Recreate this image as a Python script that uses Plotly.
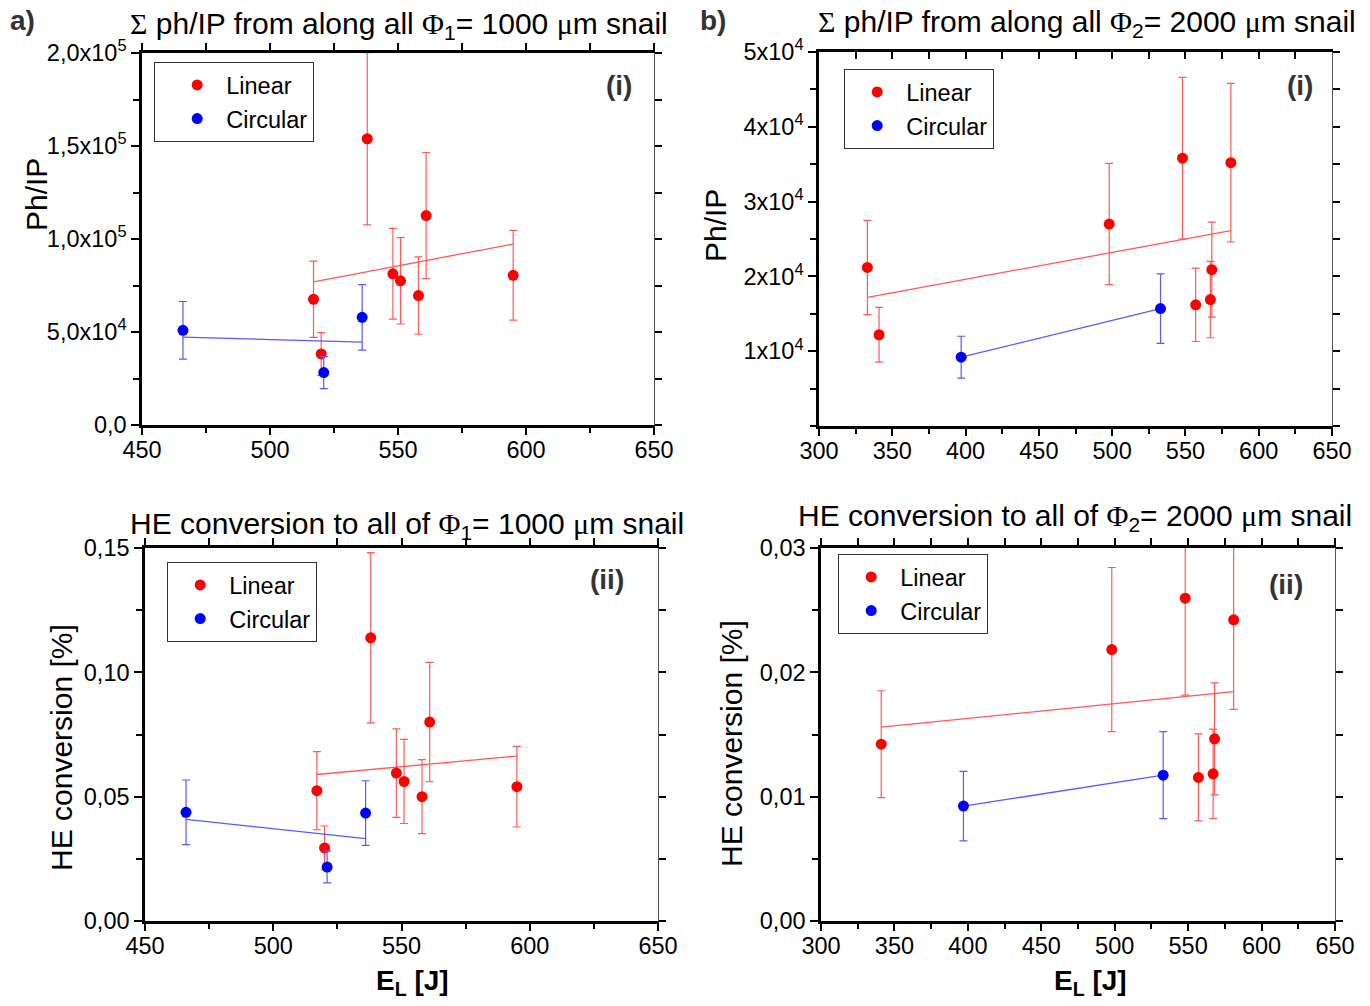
import numpy as np
import plotly.graph_objects as go

# ---------------- data ----------------
A_lin_x = [517, 520, 538, 548, 551, 558, 561, 595]
A_lin_y = [67600, 38200, 153900, 81300, 77500, 69600, 112600, 80500]
A_lin_err = [20500, 11500, 46300, 24400, 23200, 20800, 33900, 24100]
A_cir_x = [466, 521, 536]
A_cir_y = [50900, 28200, 57900]
A_cir_err = [15500, 8600, 17600]

B_lin_x = [333, 341, 498, 548, 557, 567, 568, 581]
B_lin_y = [21200, 12200, 27000, 35800, 16200, 16900, 20900, 35200]
B_lin_err = [6300, 3650, 8100, 10800, 4900, 5100, 6350, 10600]
B_cir_x = [397, 533]
B_cir_y = [9200, 15700]
B_cir_err = [2800, 4650]

C_lin_x = [517, 520, 538, 548, 551, 558, 561, 595]
C_lin_y = [0.0524, 0.0294, 0.1139, 0.0595, 0.0561, 0.0500, 0.0800, 0.0540]
C_lin_err = [0.0157, 0.0088, 0.0342, 0.0178, 0.0169, 0.0149, 0.0240, 0.0162]
C_cir_x = [466, 521, 536]
C_cir_y = [0.0437, 0.0217, 0.0434]
C_cir_err = [0.0130, 0.0064, 0.0130]

D_lin_x = [341, 498, 548, 557, 567, 568, 581]
D_lin_y = [0.01422, 0.02183, 0.02596, 0.01155, 0.01184, 0.01465, 0.02422]
D_lin_err = [0.0043, 0.0066, 0.0078, 0.0035, 0.0036, 0.0045, 0.0072]
D_cir_x = [397, 533]
D_cir_y = [0.00924, 0.01173]
D_cir_err = [0.0028, 0.0035]

XA_ticks = [450, 500, 550, 600, 650]
XB_ticks = [300, 350, 400, 450, 500, 550, 600, 650]
YA_vals = [0, 50000, 100000, 150000, 200000]
YA_text = ["0,0", "5,0x10<sup>4</sup>", "1,0x10<sup>5</sup>", "1,5x10<sup>5</sup>", "2,0x10<sup>5</sup>"]
YB_vals = [10000, 20000, 30000, 40000, 50000]
YB_text = ["1x10<sup>4</sup>", "2x10<sup>4</sup>", "3x10<sup>4</sup>", "4x10<sup>4</sup>", "5x10<sup>4</sup>"]
YC_vals = [0, 0.05, 0.10, 0.15]
YC_text = ["0,00", "0,05", "0,10", "0,15"]
YD_vals = [0, 0.01, 0.02, 0.03]
YD_text = ["0,00", "0,01", "0,02", "0,03"]

SERIES_NAMES = ["Linear", "Circular"]

# ---------------- style ----------------
FONT = "Liberation Sans, Arial, sans-serif"
SERIF = "Liberation Serif"
RED = "#ff0000"
BLUE = "#0000ff"
RED_L = "rgb(255,90,90)"
BLUE_L = "rgb(90,90,255)"
W, H = 1370, 1006

def px_x(p):
    return p / W

def px_y(p):
    return 1 - p / H

fig = go.Figure()

panels = [
    dict(ax="", xr=[450, 650], yr=[0, 200000], xt=XA_ticks, yv=YA_vals, yt=YA_text, ymin=25000,
         dx=[142, 654], dy=[53, 425], lin=(A_lin_x, A_lin_y, A_lin_err), cir=(A_cir_x, A_cir_y, A_cir_err),
         leg="legend", top_in=False),
    dict(ax="2", xr=[300, 650], yr=[0, 50000], xt=XB_ticks, yv=YB_vals, yt=YB_text, ymin=5000,
         dx=[819, 1332], dy=[52, 426], lin=(B_lin_x, B_lin_y, B_lin_err), cir=(B_cir_x, B_cir_y, B_cir_err),
         leg="legend2", top_in=True),
    dict(ax="3", xr=[450, 650], yr=[0, 0.15], xt=XA_ticks, yv=YC_vals, yt=YC_text, ymin=0.025,
         dx=[145, 658], dy=[548, 921], lin=(C_lin_x, C_lin_y, C_lin_err), cir=(C_cir_x, C_cir_y, C_cir_err),
         leg="legend3", top_in=False),
    dict(ax="4", xr=[300, 650], yr=[0, 0.03], xt=XB_ticks, yv=YD_vals, yt=YD_text, ymin=0.005,
         dx=[821, 1335], dy=[548, 921], lin=(D_lin_x, D_lin_y, D_lin_err), cir=(D_cir_x, D_cir_y, D_cir_err),
         leg="legend4", top_in=False),
]

layout = {}
tickfont = dict(family=FONT, size=23.5, color="black")

for i, p in enumerate(panels):
    n = p["ax"]
    xname = "x" + n
    yname = "y" + n
    top_id = str(5 + i)
    xdom = [px_x(p["dx"][0]), px_x(p["dx"][1])]
    ydom = [px_y(p["dy"][1]), px_y(p["dy"][0])]
    dxt = p["xt"][1] - p["xt"][0]
    layout["xaxis" + n] = dict(
        domain=xdom, range=p["xr"], anchor=yname, showline=True, linecolor="black", linewidth=2.5,
        ticks="outside", ticklen=7, tickwidth=2, tickcolor="black",
        tickvals=p["xt"], ticktext=[str(v) for v in p["xt"]], ticklabelstandoff=-5,
        minor=dict(dtick=dxt / 2, tick0=p["xt"][0], ticks="outside", ticklen=5, tickwidth=1.5, tickcolor="black"),
        showgrid=False, zeroline=False, tickfont=tickfont, fixedrange=True, automargin=False)
    layout["yaxis" + n] = dict(
        domain=ydom, range=p["yr"], anchor=xname, showline=True, linecolor="black", linewidth=2.5,
        ticks="outside", ticklen=8, tickwidth=2, tickcolor="black",
        tickvals=p["yv"], ticktext=p["yt"],
        minor=dict(dtick=p["ymin"], tick0=0, ticks="outside", ticklen=6, tickwidth=1.5, tickcolor="black"),
        showgrid=False, zeroline=False, tickfont=tickfont, fixedrange=True, automargin=False)
    layout["xaxis" + top_id] = dict(
        overlaying=xname, side="top", anchor=yname, range=p["xr"], showline=True, linecolor="black",
        linewidth=2.5, ticks="inside" if p["top_in"] else "outside", ticklen=7, tickwidth=2, tickcolor="black",
        dtick=dxt / 2, tick0=p["xt"][0], showticklabels=False, showgrid=False, zeroline=False,
        fixedrange=True, automargin=False)
    layout["yaxis" + top_id] = dict(
        overlaying=yname, side="right", anchor=xname, range=p["yr"], showline=True, linecolor="#555",
        linewidth=1.2, ticks="outside", ticklen=7, tickwidth=2, tickcolor="black",
        dtick=p["ymin"], tick0=0, showticklabels=False, showgrid=False, zeroline=False,
        fixedrange=True, automargin=False)
    fig.add_trace(go.Scatter(x=[None], y=[None], xaxis="x" + top_id, yaxis=yname, showlegend=False,
                             hoverinfo="skip"))
    fig.add_trace(go.Scatter(x=[None], y=[None], xaxis=xname, yaxis="y" + top_id, showlegend=False,
                             hoverinfo="skip"))

    for (sx, sy, se), col, colL, name in [(p["lin"], RED, RED_L, SERIES_NAMES[0]),
                                          (p["cir"], BLUE, BLUE_L, SERIES_NAMES[1])]:
        k, b = np.polyfit(np.array(sx, float), np.array(sy, float), 1)
        fx = [min(sx), max(sx)]
        fy = [k * v + b for v in fx]
        fig.add_trace(go.Scatter(x=fx, y=fy, mode="lines", line=dict(color=colL, width=1.3),
                                 xaxis=xname, yaxis=yname, showlegend=False, hoverinfo="skip"))
        fig.add_trace(go.Scatter(
            x=sx, y=sy, mode="markers", name=name, legend=p["leg"],
            marker=dict(color=col, size=11, symbol="circle"),
            error_y=dict(type="data", array=se, visible=True, color=colL, thickness=1.2, width=4),
            xaxis=xname, yaxis=yname, cliponaxis=True))

legend_pos = {"legend": (154, 62, 13), "legend2": (844, 69, 3), "legend3": (167, 562, 3), "legend4": (838, 554, 3)}
for lg, (lx, ly, ind) in legend_pos.items():
    layout[lg] = dict(x=px_x(lx), y=px_y(ly), xanchor="left", yanchor="top", bgcolor="white",
                      bordercolor="#333", borderwidth=1.2, font=dict(family=FONT, size=23.5, color="black"),
                      tracegroupgap=0, itemwidth=48, indentation=ind)

fig.update_layout(**layout)

ann = []
def add_text(x, y, text, size, bold=False, angle=0, color="black", xanchor="center"):
    ann.append(dict(x=px_x(x), y=px_y(y), xref="paper", yref="paper", text=("<b>%s</b>" % text) if bold else text,
                    showarrow=False, font=dict(family=FONT, size=size, color=color), textangle=angle,
                    xanchor=xanchor, yanchor="middle"))

sig = '<span style="font-family:%s">&#931;</span>' % SERIF
phi = '<span style="font-family:%s">&#934;</span>' % SERIF
mu = '<span style="font-family:%s">&#956;</span>' % SERIF

add_text(22, 21, "a)", 28, bold=True, color="#333")
add_text(713, 21, "b)", 28, bold=True, color="#333")
add_text(399, 25, sig + " ph/IP from along all " + phi + "<sub>1</sub>= 1000 " + mu + "m snail", 30)
add_text(1087, 24, sig + " ph/IP from along all " + phi + "<sub>2</sub>= 2000 " + mu + "m snail", 30)
add_text(407, 525, "HE conversion to all of " + phi + "<sub>1</sub>= 1000 " + mu + "m snail", 30)
add_text(1075, 517, "HE conversion to all of " + phi + "<sub>2</sub>= 2000 " + mu + "m snail", 30)
add_text(619, 85, "(i)", 28, bold=True, color="#333")
add_text(1300, 85, "(i)", 28, bold=True, color="#333")
add_text(607, 579, "(ii)", 28, bold=True, color="#333")
add_text(1286, 584, "(ii)", 28, bold=True, color="#333")
add_text(37, 195, "Ph/IP", 30, angle=-90)
add_text(716, 226, "Ph/IP", 30, angle=-90)
add_text(61, 748, "HE conversion [%]", 30, angle=-90)
add_text(731, 744, "HE conversion [%]", 30, angle=-90)
add_text(413, 982, "E<sub>L</sub> [J]", 28, bold=True)
add_text(1090, 982, "E<sub>L</sub> [J]", 28, bold=True)

fig.update_layout(annotations=ann, width=W, height=H, margin=dict(l=0, r=0, t=0, b=0),
                  paper_bgcolor="white", plot_bgcolor="white", font=dict(family=FONT))

fig.write_html("out.html", config={"displayModeBar": False},
               post_script="document.body.style.margin='0px';document.body.style.overflow='hidden';")
